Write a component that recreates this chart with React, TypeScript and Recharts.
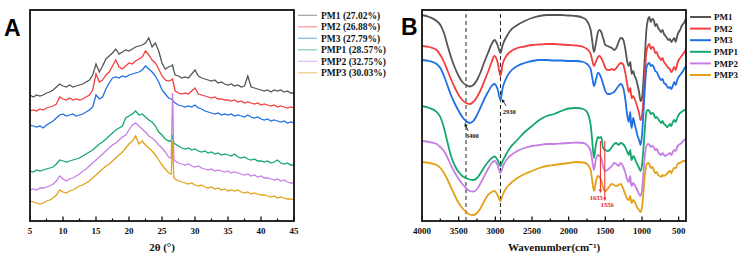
import React from "react"
import { LineChart, Line, XAxis, YAxis, ReferenceLine, ReferenceDot } from "recharts"

const SAMPLES = ["PM1", "PM2", "PM3", "PMP1", "PMP2", "PMP3"]
const XRD_LABELS = ["PM1 (27.02%)", "PM2 (26.88%)", "PM3 (27.79%)", "PMP1 (28.57%)", "PMP2 (32.75%)", "PMP3 (30.03%)"]
const COLORS = ["#555555", "#f2403f", "#1f6fe5", "#14a86c", "#c57fe4", "#e3a117"]

// XRD: 2θ in degrees, intensity in arbitrary units (stacked)
const TWO_THETA = [
  5, 5.5, 6, 6.5, 7, 7.5, 8, 8.5, 9, 9.5,
  10, 10.5, 11, 11.5, 12, 12.5, 13, 13.5, 14, 14.5,
  15, 15.5, 16, 16.5, 17, 17.5, 18, 18.5, 19, 19.5,
  20, 20.5, 21, 21.5, 22, 22.5, 23, 23.5, 24, 24.5,
  25, 25.5, 26,
  26.4, 26.6, 26.8,
  27, 27.5, 28, 28.5, 29, 29.5, 30, 30.5, 31, 31.5,
  32, 32.5, 33, 33.5, 34, 34.5, 35, 35.5, 36, 36.5,
  37, 37.5, 38, 38.5, 39, 39.5, 40, 40.5, 41, 41.5,
  42, 42.5, 43, 43.5, 44, 44.5, 45,
]
const XRD_PM1 = [
  126, 124, 126, 125, 126, 128, 129, 131, 134, 137,
  135, 134, 136, 134, 135, 136, 137, 139, 141, 146,
  157, 149, 155, 162, 165, 168, 172, 167, 169, 171,
  170, 172, 174, 175, 176, 178, 183, 174, 178, 170,
  158, 152, 154,
  155, 156, 150,
  146, 145, 143, 144, 143, 147, 151, 145, 143, 142,
  141, 140, 141, 138, 139, 137, 136, 137, 135, 136,
  134, 135, 145, 134, 133, 132, 131, 130, 131, 129,
  131, 130, 131, 129, 130, 128, 128,
]
const XRD_PM2 = [
  110, 111, 110, 112, 111, 113, 114, 115, 117, 124,
  122, 121, 123, 121, 122, 121, 122, 124, 126, 131,
  147, 139, 141, 146, 149, 155, 161, 154, 152, 155,
  158, 157, 160, 162, 164, 170, 166, 161, 158, 152,
  145, 141, 140,
  141, 142, 136,
  130, 128, 127, 128, 127, 130, 133, 127, 126, 125,
  124, 123, 124, 122, 122, 121, 121, 120, 121, 119,
  120, 118, 119, 118, 117, 118, 116, 117, 116, 115,
  116, 114, 115, 114, 113, 114, 113,
]
const XRD_PM3 = [
  96, 95, 94, 95, 93, 96, 98, 100, 103, 106,
  107, 105, 106, 107, 105, 106, 107, 109, 111, 114,
  126, 122, 124, 132, 138, 143, 144, 143, 145, 144,
  146, 147, 148, 149, 151, 155, 152, 149, 145, 139,
  131, 127, 123,
  122, 121, 119,
  118, 116, 115, 114, 115, 114, 116, 113, 112, 110,
  109, 108, 107, 108, 106, 107, 106, 107, 105, 106,
  105, 104, 106, 104, 103, 104, 102, 101, 102, 100,
  101, 100, 99, 100, 98, 99, 98,
]
const XRD_PMP1 = [
  50, 49, 51, 50, 51, 52, 53, 54, 57, 61,
  60, 59, 60, 61, 62, 63, 65, 67, 69, 71,
  74, 77, 79, 82, 85, 88, 91, 93, 95, 103,
  105, 107, 110, 106, 107, 104, 101, 99, 95, 89,
  86, 82, 80,
  80, 86, 78,
  77, 75, 73, 72, 73, 71, 72, 70, 69, 70,
  68, 69, 67, 68, 66, 67, 66, 65, 67, 64,
  63, 64, 62, 61, 62, 60, 60, 59, 60, 58,
  59, 61, 58, 57, 58, 56, 56,
]
const XRD_PMP2 = [
  31, 32, 31, 33, 33, 34, 35, 37, 40, 45,
  42, 40, 42, 43, 45, 47, 50, 52, 55, 58,
  61, 64, 67, 70, 73, 76, 78, 81, 84, 86,
  91, 96, 98, 95, 92, 89, 85, 83, 80, 76,
  73, 69, 64,
  63, 128, 61,
  60, 58, 57, 56, 57, 55, 54, 55, 53, 52,
  51, 52, 50, 51, 50, 49, 50, 48, 49, 48,
  47, 46, 47, 45, 46, 44, 45, 43, 43, 42,
  41, 42, 40, 41, 39, 38, 38,
]
const XRD_PMP3 = [
  20, 19, 18, 17, 18, 20, 21, 23, 26, 31,
  29, 28, 30, 31, 33, 35, 36, 38, 40, 43,
  46, 49, 52, 55, 57, 60, 63, 66, 69, 73,
  77, 80, 85, 77, 80, 76, 73, 70, 66, 61,
  56, 52, 48,
  47, 80, 43,
  42, 40, 39, 38, 37, 38, 36, 35, 36, 34,
  33, 34, 32, 33, 31, 32, 30, 31, 30, 31,
  29, 28, 29, 27, 28, 27, 26, 26, 25, 24,
  25, 23, 24, 23, 22, 22, 21,
]

// FTIR: wavenumber in cm-1, transmittance in arbitrary units (stacked)
const WAVENUMBER = [
  4000, 3900, 3800, 3750, 3700, 3650, 3600, 3550, 3500, 3450,
  3400, 3350, 3300, 3250, 3200, 3150, 3100, 3050, 3010, 2970,
  2930, 2900, 2850, 2800, 2700, 2600, 2500, 2400, 2300, 2200,
  2100, 2000, 1900, 1800, 1750, 1700, 1680, 1655, 1630, 1600,
  1580, 1556, 1530, 1500, 1470, 1440, 1410, 1380, 1350, 1320,
  1290, 1260, 1230, 1200, 1180, 1160, 1150, 1140, 1120, 1100,
  1080, 1060, 1040, 1020, 1000, 980, 960, 940, 920, 900,
  880, 860, 840, 820, 800, 780, 760, 740, 720, 700,
  680, 660, 640, 620, 600, 580, 560, 540, 520, 500,
  480, 460, 440, 420, 400,
]
const FTIR_PM1 = [
  206, 204, 200, 196, 188, 175, 163, 153, 145, 139,
  136, 134.5, 136, 141, 149, 159, 168, 177, 181, 176,
  168, 176, 184, 190, 196, 200, 203, 205, 206, 206,
  206, 205.5, 205, 203, 200, 191, 181, 169, 177, 189,
  191, 189, 183, 176, 175, 174, 173, 171, 173, 179,
  183, 182, 173, 159, 155, 159, 153, 147, 150, 145,
  142, 136, 129, 120, 123, 141, 166, 191, 201, 204,
  199, 202, 201, 195, 197, 193, 191, 189, 191, 187,
  185, 183, 181, 182, 179, 181, 183, 179, 185, 189,
  191, 195, 197, 199, 203,
]
const FTIR_PM2 = [
  175, 174, 171, 166, 159, 150, 141, 133, 126, 121,
  118, 117, 119, 124, 131, 140, 149, 159, 165, 159,
  145, 157, 165, 169, 173, 174.5, 176, 176.5, 177, 177,
  176.5, 176, 175.5, 174, 172, 167, 161, 155, 159, 164,
  165, 163, 159, 153, 151, 151, 152, 151, 153, 156,
  158, 157, 149, 136, 129, 133, 127, 123, 125, 122,
  118, 113, 108, 101, 105, 123, 147, 169, 175, 177,
  172, 174, 173, 168, 169, 165, 163, 161, 163, 159,
  157, 155, 153, 152, 149, 151, 154, 151, 157, 161,
  163, 165, 167, 169, 172,
]
const FTIR_PM3 = [
  161, 160, 157, 153, 145, 135, 125, 117, 110, 104,
  100, 98, 100, 106, 114, 122, 129, 135, 137, 132,
  121, 133, 143, 149, 155, 158, 160, 161, 161, 160.5,
  160.5, 160, 160, 159, 157, 152, 144, 135, 141, 148,
  147, 143, 137, 130, 127, 127, 128, 129, 132, 135,
  137, 134, 123, 105, 99, 109, 97, 93, 103, 97,
  91, 85, 81, 76, 86, 109, 133, 153, 157, 158,
  155, 156, 154, 150, 149, 146, 143, 141, 142, 138,
  137, 135, 133, 134, 132, 135, 139, 136, 141, 144,
  146, 148, 150, 153, 155,
]
const FTIR_PMP1 = [
  115, 113, 109, 104, 93, 78, 64, 55, 49, 45,
  43, 41.5, 41, 43, 48, 54, 59, 63, 64.5, 61,
  55, 60, 67, 73, 81, 89, 95, 101, 105, 107,
  110, 112.5, 113, 112, 109, 96, 81, 63, 76, 84,
  83, 84, 73, 71, 70, 71, 74, 77, 78, 76,
  78, 77, 74, 69, 66, 71, 64, 61, 65, 63,
  59, 56, 53, 50, 56, 73, 93, 109, 111, 110,
  107, 108, 107, 103, 104, 102, 100, 98, 100, 97,
  96, 94, 95, 97, 95, 99, 101, 99, 103, 106,
  108, 109, 110, 111, 112,
]
const FTIR_PMP2 = [
  80, 79, 77, 74, 70, 63, 55, 48, 42, 37,
  33, 30, 29.5, 32, 38, 45, 52, 58, 60, 56,
  48, 54, 61, 65, 70, 73, 75, 76, 77, 77,
  77.5, 78, 78.5, 78, 76, 70, 61, 51, 61, 66,
  65, 63, 54, 50, 51, 53, 55, 58, 57, 55,
  58, 55, 49, 41, 39, 45, 37, 35, 38, 36,
  33, 30, 27, 25, 31, 49, 66, 75, 77, 76.5,
  74, 75, 74, 71, 72, 69, 67, 66, 68, 66,
  65, 66, 67, 68, 66, 69, 71, 70, 74, 76,
  77, 78, 80, 81, 83,
]
const FTIR_PMP3 = [
  59, 58, 56, 53, 48, 41, 33, 25, 18, 13,
  9, 6.5, 6, 8, 13, 20, 26, 29, 30, 26,
  20, 26, 33, 37, 43, 47, 50, 53, 55, 56,
  57, 58, 59, 58.5, 57, 51, 41, 30, 39, 45,
  44, 41, 33, 30, 32, 35, 37, 36, 35, 36,
  37, 33, 27, 22, 21, 25, 20, 18, 21, 19,
  16, 13, 11, 9, 14, 29, 46, 56, 58, 57,
  53, 54, 51, 48, 49, 46, 45, 44, 46, 45,
  46, 47, 49, 50, 48, 51, 53, 53, 56, 58,
  58, 59, 60, 60, 61,
]

const XRD_TICKS = [5, 7.5, 10, 12.5, 15, 17.5, 20, 22.5, 25, 27.5, 30, 32.5, 35, 37.5, 40, 42.5, 45]
const FTIR_TICKS = [4000, 3750, 3500, 3250, 3000, 2750, 2500, 2250, 2000, 1750, 1500, 1250, 1000, 750, 500]

const xrdSeries = [XRD_PM1, XRD_PM2, XRD_PM3, XRD_PMP1, XRD_PMP2, XRD_PMP3]
const ftirSeries = [FTIR_PM1, FTIR_PM2, FTIR_PM3, FTIR_PMP1, FTIR_PMP2, FTIR_PMP3]

const xrdData = TWO_THETA.map((t, i) => {
  const row: Record<string, number> = { t }
  SAMPLES.forEach((s, k) => (row[s] = xrdSeries[k][i]))
  return row
})
const ftirData = WAVENUMBER.map((nu, i) => {
  const row: Record<string, number> = { nu }
  SAMPLES.forEach((s, k) => (row[s] = ftirSeries[k][i]))
  return row
})

const SERIF = "'Liberation Serif', 'Times New Roman', serif"
const SANS = "'Liberation Sans', Arial, sans-serif"

// chart boxes: the plot area sits inside the margins below
const XRD_BOX = { left: 0, width: 370, margin: { top: 10, left: 30, right: 76, bottom: 5 } }
const FTIR_BOX = { left: 370, width: 372, margin: { top: 10, left: 52, right: 56, bottom: 5 } }
const CHART_H = 260
const AXIS_H = 34

// inward tick marks with labels on the major ones only
const makeTick = (step: number) => (props: any) => {
  const { x, y, payload } = props
  const major = payload.value % step === 0
  return (
    <g>
      <line x1={x} x2={x} y1={y} y2={y - (major ? 4.5 : 2.5)} stroke="#000" strokeWidth={1.2} />
      {major && (
        <text x={x} y={y + 13} textAnchor="middle" fontSize={9} fontWeight="bold" fontFamily={SERIF} fill="#111">
          {payload.value}
        </text>
      )}
    </g>
  )
}

const arrow = (color: string, width: number) => (p: any) => {
  const { x1, y1, x2, y2 } = p
  const a = Math.atan2(y2 - y1, x2 - x1)
  const len = 3.5
  const half = 1.7
  const bx = x2 - len * Math.cos(a)
  const by = y2 - len * Math.sin(a)
  const pts = `${x2},${y2} ${bx - half * Math.sin(a)},${by + half * Math.cos(a)} ${bx + half * Math.sin(a)},${by - half * Math.cos(a)}`
  return (
    <g>
      <line x1={x1} y1={y1} x2={bx} y2={by} stroke={color} strokeWidth={width} />
      <polygon points={pts} fill={color} />
    </g>
  )
}

const noteStyle = { fontSize: 6.5, fontWeight: "bold", fontFamily: SERIF }

function PlotFrame({ box }: { box: typeof XRD_BOX }) {
  const m = box.margin
  return (
    <rect
      x={box.left + m.left}
      y={m.top}
      width={box.width - m.left - m.right}
      height={CHART_H - m.top - m.bottom - AXIS_H}
      fill="none"
      stroke="#111"
      strokeWidth={1.8}
    />
  )
}

function XrdChart() {
  return (
    <LineChart width={XRD_BOX.width} height={CHART_H} data={xrdData} margin={XRD_BOX.margin}>
      <XAxis
        type="number"
        dataKey="t"
        domain={[5, 45]}
        ticks={XRD_TICKS}
        interval={0}
        tickSize={0}
        tickMargin={0}
        axisLine={false}
        tickLine={false}
        tick={makeTick(5)}
        height={AXIS_H}
        allowDataOverflow
        label={{ value: "2θ (°)", position: "insideBottom", offset: 4, fontSize: 11, fontWeight: "bold", fontFamily: SERIF, fill: "#111" }}
      />
      <YAxis type="number" domain={[0, 211]} hide allowDataOverflow />
      {SAMPLES.map((s, k) => (
        <Line key={s} type="linear" dataKey={s} stroke={COLORS[k]} strokeWidth={1.3} dot={false} isAnimationActive={false} />
      ))}
    </LineChart>
  )
}

function FtirChart() {
  return (
    <LineChart width={FTIR_BOX.width} height={CHART_H} data={ftirData} margin={FTIR_BOX.margin}>
      <XAxis
        type="number"
        dataKey="nu"
        domain={[400, 4000]}
        reversed
        ticks={FTIR_TICKS}
        interval={0}
        tickSize={0}
        tickMargin={0}
        axisLine={false}
        tickLine={false}
        tick={makeTick(500)}
        height={AXIS_H}
        allowDataOverflow
        label={{ value: "Wavenumber(cm⁻¹)", position: "insideBottom", offset: 4, fontSize: 11, fontWeight: "bold", fontFamily: SERIF, fill: "#111" }}
      />
      <YAxis type="number" domain={[0, 211]} hide allowDataOverflow />
      <ReferenceLine x={3400} stroke="#222" strokeWidth={1} strokeDasharray="4 3" />
      <ReferenceLine x={2930} stroke="#222" strokeWidth={1} strokeDasharray="4 3" />
      {SAMPLES.map((s, k) => (
        <Line key={s} type="monotone" dataKey={s} stroke={COLORS[k]} strokeWidth={1.8} dot={false} isAnimationActive={false} />
      ))}
      <ReferenceLine segment={[{ x: 2851, y: 115 }, { x: 2913, y: 122 }]} shape={arrow("#111", 0.8)} />
      <ReferenceLine segment={[{ x: 3369, y: 90 }, { x: 3417, y: 98 }]} shape={arrow("#111", 0.8)} />
      <ReferenceLine segment={[{ x: 1567, y: 80 }, { x: 1567, y: 28 }]} shape={arrow("#e8262a", 1)} />
      <ReferenceLine segment={[{ x: 1507, y: 80 }, { x: 1507, y: 20 }]} shape={arrow("#e8262a", 1)} />
      <ReferenceDot x={2811} y={109} r={0} fill="none" stroke="none" label={{ value: "2930", position: "center", fill: "#111", ...noteStyle }} />
      <ReferenceDot x={3315} y={85} r={0} fill="none" stroke="none" label={{ value: "3400", position: "center", fill: "#111", ...noteStyle }} />
      <ReferenceDot x={1625} y={23} r={0} fill="none" stroke="none" label={{ value: "1655", position: "center", fill: "#e8262a", ...noteStyle }} />
      <ReferenceDot x={1475} y={16} r={0} fill="none" stroke="none" label={{ value: "1556", position: "center", fill: "#e8262a", ...noteStyle }} />
    </LineChart>
  )
}

export default function App() {
  return (
    <div style={{ position: "absolute", left: 0, top: 0, width: 742, height: 260, background: "#fff", overflow: "hidden" }}>
      <div style={{ position: "absolute", left: XRD_BOX.left, top: 0 }}>
        <XrdChart />
      </div>
      <div style={{ position: "absolute", left: FTIR_BOX.left, top: 0 }}>
        <FtirChart />
      </div>
      <svg width={742} height={260} style={{ position: "absolute", left: 0, top: 0, pointerEvents: "none" }}>
        <PlotFrame box={XRD_BOX} />
        <PlotFrame box={FTIR_BOX} />
        <text x={4} y={35.5} fontSize={23} fontWeight="bold" fontFamily={SANS} fill="#000">A</text>
        <text x={401} y={35} fontSize={23} fontWeight="bold" fontFamily={SANS} fill="#000">B</text>
        {XRD_LABELS.map((label, k) => {
          const y = 15.3 + k * 11.5
          return (
            <g key={label}>
              <line x1={298} x2={317} y1={y} y2={y} stroke={COLORS[k]} strokeWidth={1.2} opacity={0.55} />
              <text x={321} y={y + 3.2} fontSize={9.5} fontWeight="bold" fontFamily={SERIF} fill="#111">{label}</text>
            </g>
          )
        })}
        {SAMPLES.map((s, k) => {
          const y = 17 + k * 11.6
          return (
            <g key={s}>
              <line x1={690} x2={711} y1={y} y2={y} stroke={COLORS[k]} strokeWidth={2} />
              <text x={714} y={y + 3.2} fontSize={9} fontWeight="bold" fontFamily={SERIF} fill="#111">{s}</text>
            </g>
          )
        })}
      </svg>
    </div>
  )
}
